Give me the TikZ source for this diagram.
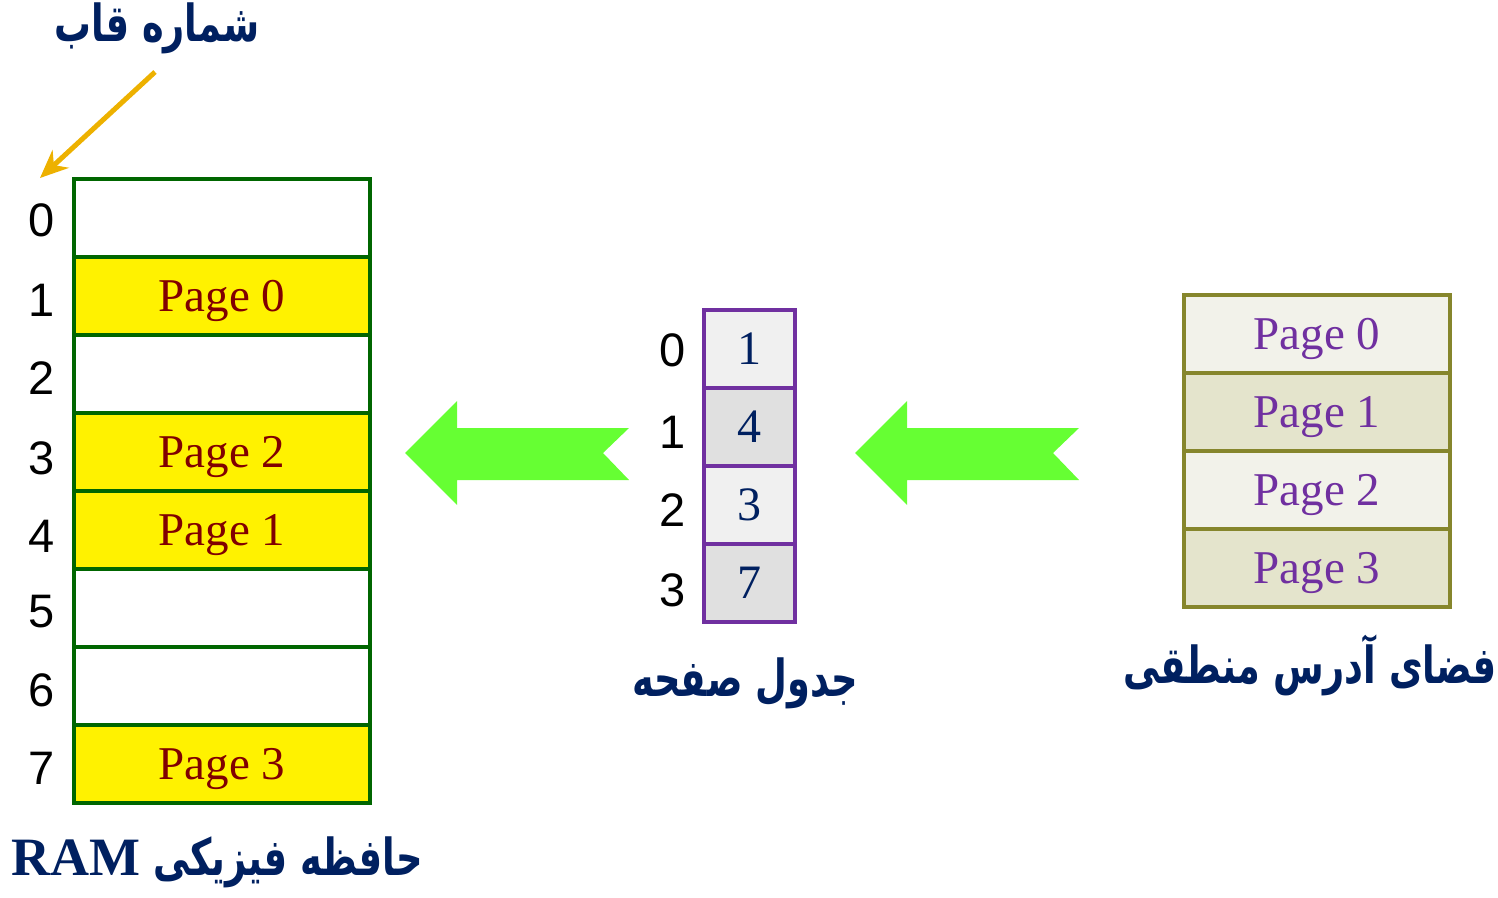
\documentclass[tikz,border=0pt]{standalone}
\usepackage{fontspec}
\setmainfont{Liberation Serif}
\setsansfont{Liberation Sans}
\newfontfamily\persian[Script=Arabic, FakeStretch=0.72]{DejaVu Sans}
\TeXXeTstate=1
\usepackage{tikz}
\usetikzlibrary{arrows.meta}
\definecolor{titleblue}{RGB}{0,32,96}
\definecolor{ramgreen}{RGB}{0,102,0}
\definecolor{ramred}{RGB}{128,0,0}
\definecolor{tabpurple}{RGB}{112,48,160}
\definecolor{tablight}{RGB}{240,240,240}
\definecolor{tabdark}{RGB}{224,224,224}
\definecolor{logolive}{RGB}{134,134,44}
\definecolor{loglight}{RGB}{242,242,234}
\definecolor{logdark}{RGB}{228,228,204}
\definecolor{arrgreen}{RGB}{102,255,51}
\definecolor{arrorange}{RGB}{237,177,0}

\begin{document}
\begin{tikzpicture}[x = 0.5pt, y = -0.5pt,
  frame/.style = {draw=ramgreen, line width=1.75pt, minimum width=148pt, minimum height=39pt, inner sep=0pt, text=ramred, text depth=0pt, font=\fontsize{23.5}{24}\selectfont},
  used/.style = {frame, fill=yellow},
  entry/.style = {draw=tabpurple, line width=1.75pt, minimum width=45.5pt, minimum height=39pt, inner sep=0pt, text=titleblue, font=\fontsize{24}{24}\selectfont},
  lpage/.style = {draw=logolive, line width=1.75pt, minimum width=133pt, minimum height=39pt, inner sep=0pt, text=tabpurple, text depth=0pt, font=\fontsize{23.5}{24}\selectfont},
  idx/.style = {font=\sffamily\fontsize{23.5}{24}\selectfont},
  caption/.style = {text=titleblue, font=\persian\bfseries\fontsize{25.5}{26}\selectfont},
  bigarrow/.style = {fill=arrgreen},
  pointer/.style = {draw=arrorange, line width=2.5pt, -{Stealth[length=14pt, width=12pt]}}]
	\useasboundingbox (0, 0) rectangle (1498, 898);
	% physical memory
	\node[frame] (f0) at (222, 218){};
	\node[used] (f1) at (222, 296){Page 0};
	\node[frame] (f2) at (222, 374){};
	\node[used] (f3) at (222, 452){Page 2};
	\node[used] (f4) at (222, 530){Page 1};
	\node[frame] (f5) at (222, 608){};
	\node[frame] (f6) at (222, 686){};
	\node[used] (f7) at (222, 764){Page 3};
	\node[idx] (n0) at (42, 220){0};
	\node[idx] (n1) at (42, 300){1};
	\node[idx] (n2) at (42, 378){2};
	\node[idx] (n3) at (42, 458){3};
	\node[idx] (n4) at (42, 536){4};
	\node[idx] (n5) at (42, 612){5};
	\node[idx] (n6) at (42, 690){6};
	\node[idx] (n7) at (42, 768){7};
	\node[caption] (ftitle) at (157, 28){\beginR شماره قاب\endR};
	\node[caption] (ram) at (217, 862){\beginR حافظه فیزیکی \beginL{\rmfamily\fontsize{27}{27}\selectfont RAM}\endL\endR};
	\coordinate (ptail) at (155, 72);
	\coordinate (phead) at (40, 178);
	\draw[pointer] (ptail) -- (phead);
	% page table
	\node[entry, fill=tablight] (t0) at (749.5, 349){1};
	\node[entry, fill=tabdark] (t1) at (749.5, 427){4};
	\node[entry, fill=tablight] (t2) at (749.5, 505){3};
	\node[entry, fill=tabdark] (t3) at (749.5, 583){7};
	\node[idx] (m0) at (673, 350){0};
	\node[idx] (m1) at (673, 432){1};
	\node[idx] (m2) at (673, 510){2};
	\node[idx] (m3) at (673, 590){3};
	\node[caption] (ttitle) at (745, 683){\beginR جدول صفحه\endR};
	% logical space
	\node[lpage, fill=loglight] (p0) at (1317, 334){Page 0};
	\node[lpage, fill=logdark] (p1) at (1317, 412){Page 1};
	\node[lpage, fill=loglight] (p2) at (1317, 490){Page 2};
	\node[lpage, fill=logdark] (p3) at (1317, 568){Page 3};
	\node[caption] (ltitle) at (1310, 665){\beginR فضای آدرس منطقی\endR};
	% arrows
	\fill[bigarrow] (405, 453) -- (457, 401) -- (457, 428) -- (629, 428) -- (603, 453) -- (629, 480) -- (457, 480) -- (457, 505) -- cycle;
	\fill[bigarrow] (855, 453) -- (907, 401) -- (907, 428) -- (1079, 428) -- (1053, 453) -- (1079, 480) -- (907, 480) -- (907, 505) -- cycle;
\end{tikzpicture}
\end{document}
